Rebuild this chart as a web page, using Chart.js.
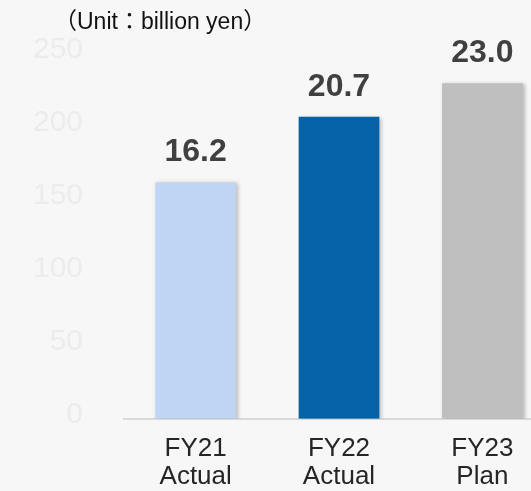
<!DOCTYPE html>
<html>
<head>
<meta charset="utf-8">
<script src="https://cdn.jsdelivr.net/npm/chart.js@4"></script>
<style>
  html, body { margin: 0; padding: 0; background: #f7f7f7; overflow: hidden; }
  #wrap { width: 531px; height: 491px; overflow: hidden; }
</style>
</head>
<body>
<div id="wrap"><canvas id="salesChart" width="560" height="511"></canvas></div>
<script>
const categories = [['FY21', 'Actual'], ['FY22', 'Actual'], ['FY23', 'Plan']];
const values = [16.2, 20.7, 23.0];          // billion yen
const barColors = ['#c0d5f3', '#0562a8', '#bfbfbf'];
const tickLabels = ['0', '50', '100', '150', '200', '250'];
const unitText = '（Unit：billion yen）';

const FONT = "'Liberation Sans', Arial, 'Noto Sans CJK JP', sans-serif";

// soft drop shadow under the bars
const barShadow = {
  id: 'barShadow',
  beforeDatasetsDraw(chart) {
    const c = chart.ctx;
    c.save();
    c.shadowColor = 'rgba(0,0,0,0.25)';
    c.shadowBlur = 4;
    c.shadowOffsetX = 2;
    c.shadowOffsetY = 1;
  },
  afterDatasetsDraw(chart) {
    chart.ctx.restore();
  }
};

// value above each bar + unit note
const valueLabels = {
  id: 'valueLabels',
  afterDraw(chart) {
    const c = chart.ctx;
    c.save();
    c.font = 'bold 32px ' + FONT;
    c.fillStyle = '#404040';
    c.textAlign = 'center';
    c.textBaseline = 'middle';
    chart.getDatasetMeta(0).data.forEach((bar, i) => {
      c.fillText(values[i].toFixed(1), bar.x, bar.y - 30);
    });
    c.font = '23px ' + FONT;
    c.fillStyle = '#111';
    c.textAlign = 'left';
    c.fillText(unitText, 54, 23);
    c.restore();
  }
};

new Chart(document.getElementById('salesChart').getContext('2d'), {
  type: 'bar',
  data: {
    labels: categories,
    datasets: [{
      data: values,
      backgroundColor: barColors,
      borderWidth: 0,
      barPercentage: 0.563,
      categoryPercentage: 1
    }]
  },
  options: {
    responsive: false,
    animation: false,
    layout: { padding: { left: 33, right: 6, top: 54, bottom: 4 } },
    plugins: {
      legend: { display: false },
      tooltip: { enabled: false }
    },
    scales: {
      x: {
        grid: { display: false, drawTicks: false },
        border: { display: true, color: '#d9d9d9', width: 2 },
        ticks: {
          color: '#262626',
          font: { family: FONT, size: 26, lineHeight: 1.08 },
          padding: 16,
          maxRotation: 0
        }
      },
      y: {
        min: 0,
        max: 25,
        afterFit: (scale) => { scale.width = 91; },
        grid: { display: false, drawTicks: false },
        border: { display: false },
        ticks: {
          stepSize: 5,
          padding: 41,
          labelOffset: -4,
          color: '#ececec',
          font: { family: FONT, size: 30, lineHeight: 0.6 },
          callback: (v, i) => tickLabels[i]
        }
      }
    }
  },
  plugins: [barShadow, valueLabels]
});
</script>
</body>
</html>
